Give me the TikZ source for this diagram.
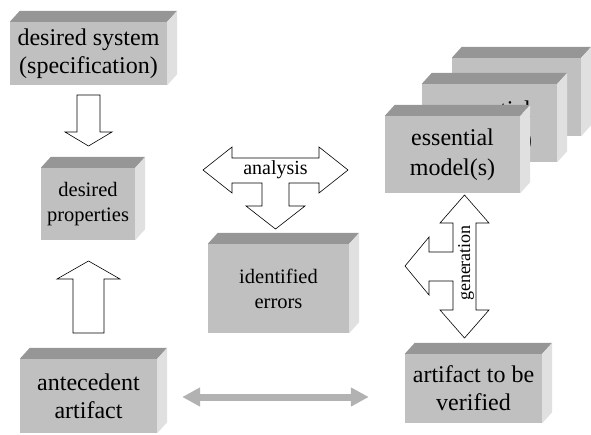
\documentclass[tikz,border=0pt]{standalone}
\usepackage{fontspec}
\setmainfont{Liberation Serif}
\usetikzlibrary{arrows.meta}

\definecolor{facefront}{HTML}{C0C0C0}
\definecolor{facetop}{HTML}{969696}
\definecolor{faceside}{HTML}{E0E0E0}
\definecolor{linkgray}{HTML}{B2B2B2}

% top and right faces of a box node
\newcommand{\boxfaces}[1]{%
  \fill[facetop] (#1.north west) -- ++(10,-11) -- ([shift={(10,-11)}]#1.north east) -- (#1.north east) -- cycle;
  \fill[faceside] (#1.north east) -- ++(10,-11) -- ([shift={(10,-11)}]#1.south east) -- (#1.south east) -- cycle;
}

\begin{document}
\begin{tikzpicture}[
        x=1pt, y=-1pt,
        block/.style={fill=facefront, inner sep=0pt, align=center, font=\fontsize{24}{28}\selectfont},
        smallblock/.style={block, font=\fontsize{20.5}{25}\selectfont},
        blockarrow/.style={draw=black, fill=white, line width=0.6pt, line join=miter},
        link/.style={draw=linkgray, line width=7pt, {Triangle[width=18pt,length=18pt]}-{Triangle[width=18pt,length=18pt]}, shorten <=25pt, shorten >=36pt}
    ]
        \useasboundingbox (0,0) rectangle (591,434);

        \node[block, minimum width=157pt, minimum height=63pt] (spec) at (88.5,53.5) {desired system\\(specification)};
        \boxfaces{spec}

        \node[smallblock, minimum width=94pt, minimum height=72pt] (props) at (88,204) {desired\\properties};
        \boxfaces{props}

        \node[smallblock, minimum width=141pt, minimum height=89pt] (errors) at (278.5,288.5) {identified\\errors};
        \boxfaces{errors}

        \node[block, minimum width=137pt, minimum height=74pt] (ante) at (88.5,396) {antecedent\\artifact};
        \boxfaces{ante}

        \node[block, minimum width=137pt, minimum height=69pt] (verif) at (473.5,388.5) {artifact to be\\verified};
        \boxfaces{verif}

        % stack of essential models, back to front
        \node[block, minimum width=129pt, minimum height=78pt] (model3) at (516.5,97) {};
        \boxfaces{model3}
        \node[block, minimum width=135pt, minimum height=78pt] (model2) at (489.5,123) {};
        \node[font=\fontsize{24}{30}\selectfont, align=center, inner sep=0pt] (model2text) at (489.5,127) {essential\\model(s)};
        \boxfaces{model2}
        \node[block, minimum width=135pt, minimum height=77pt, font=\fontsize{24}{30}\selectfont] (model1) at (452.5,154.5) {essential\\model(s)};
        \boxfaces{model1}

        % block arrows
        \draw[blockarrow] (77,95) -- (100,95) -- (100,132) -- (112,132) -- (88.5,146) -- (65,132) -- (77,132) -- cycle;
        \draw[blockarrow] (73,333) -- (104,333) -- (104,279) -- (120,279) -- (88.5,261) -- (57,279) -- (73,279) -- cycle;

        \draw[blockarrow] (203,170) -- (232,147) -- (232,158) -- (319,158) -- (319,147) -- (348,170) -- (319,193) -- (319,183)
            -- (289,183) -- (289,206) -- (305,206) -- (275.5,229) -- (246,206) -- (262,206) -- (262,183) -- (232,183) -- (232,193) -- cycle;
        \node[font=\fontsize{20}{24}\selectfont] (analysis) at (275.5,170) {analysis};

        \draw[blockarrow] (464.5,195) -- (489,223) -- (476,223) -- (476,310) -- (489,310) -- (464.5,338) -- (440,310) -- (453,310)
            -- (453,281) -- (429,281) -- (429,295) -- (405,266) -- (429,237) -- (429,252) -- (453,252) -- (453,223) -- (440,223) -- cycle;
        \node[font=\fontsize{18}{22}\selectfont, rotate=90] (generation) at (466,263) {generation};

        \draw[link] (ante.east |- 0,397) -- (verif.west |- 0,397);
    \end{tikzpicture}
\end{document}
